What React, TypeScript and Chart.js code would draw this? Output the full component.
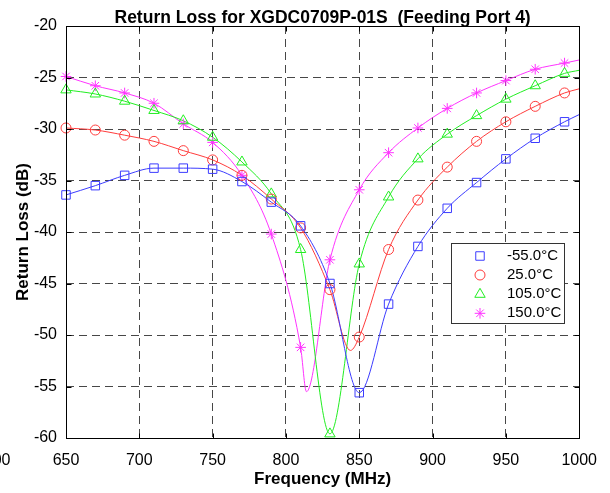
import React, { useEffect, useRef } from 'react';
import { Chart, registerables } from 'chart.js';
import { drawPoint } from 'chart.js/helpers';

Chart.register(...registerables);

const FONT = '"Liberation Sans", Arial, Helvetica, sans-serif';

const titleText = 'Return Loss for XGDC0709P-01S  (Feeding Port 4)';
const xTitle = 'Frequency (MHz)';
const yTitle = 'Return Loss (dB)';

const markerFreqs = [650, 670, 690, 710, 730, 750, 770, 790, 810, 830, 850, 870, 890, 910, 930, 950, 970, 990];
const seriesLabels = ['-55.0°C', '25.0°C', '105.0°C', '150.0°C'];
const seriesColors = ['#3c3cff', '#ff3c3c', '#22ee22', '#ff33ff'];
const seriesMarkers = ['rect', 'circle', 'triangle', 'star'];
const markerRadii = [6, 5, 6, 5.3];

const valsM55 = [-36.4, -35.5, -34.5, -33.8, -33.8, -33.9, -35.1, -37.1, -39.4, -45.0, -55.6, -47.0, -41.4, -37.7, -35.2, -32.9, -30.9, -29.3];
const vals25 = [-29.9, -30.1, -30.6, -31.2, -32.1, -33.0, -34.5, -36.8, -39.6, -45.6, -50.2, -41.7, -36.9, -33.7, -31.2, -29.3, -27.8, -26.5];
const vals105 = [-26.2, -26.6, -27.3, -28.2, -29.2, -30.8, -33.2, -36.3, -41.7, -59.6, -43.1, -36.6, -32.9, -30.5, -28.7, -27.1, -25.8, -24.6];
const vals150 = [-24.9, -25.8, -26.5, -27.5, -29.5, -31.3, -34.5, -40.2, -51.2, -42.7, -35.9, -32.3, -29.9, -28.0, -26.5, -25.3, -24.2, -23.6];
const seriesVals = [valsM55, vals25, vals105, vals150];

// extra vertices of the drawn curves (dips and right end)
const curveExtraFreqs = [[1000], [844, 1000], [1000], [814, 1000]];
const curveExtraVals = [[-28.6], [-51.5, -26.1], [-24.3], [-55.5, -23.3]];

const xTicks = [650, 700, 750, 800, 850, 900, 950, 1000];
const yTicks = [-60, -55, -50, -45, -40, -35, -30, -25, -20];
const clippedLeftLabel = '600';

function curveData(i: number) {
  const pts = markerFreqs.map((f, j) => ({ x: f, y: seriesVals[i][j] }));
  curveExtraFreqs[i].forEach((f, k) => pts.push({ x: f, y: curveExtraVals[i][k] }));
  pts.sort((a, b) => a.x - b.x);
  return pts;
}

const decorPlugin = {
  id: 'decor',
  afterDatasetsDraw(chart: any) {
    const { ctx, chartArea } = chart;
    const { left, right, top, bottom } = chartArea;
    const xs = chart.scales.x;
    const ys = chart.scales.y;
    ctx.save();
    ctx.strokeStyle = '#000';
    ctx.lineWidth = 1;
    ctx.setLineDash([]);
    const L = Math.round(left) + 0.5;
    const R = Math.round(right) + 0.5;
    const T = Math.round(top) + 0.5;
    const B = Math.round(bottom) + 0.5;
    ctx.strokeRect(L, T, R - L, B - T);
    ctx.beginPath();
    xTicks.forEach((v) => {
      const p = Math.round(xs.getPixelForValue(v)) + 0.5;
      ctx.moveTo(p, B);
      ctx.lineTo(p, B - 5);
      ctx.moveTo(p, T);
      ctx.lineTo(p, T + 5);
    });
    yTicks.forEach((v) => {
      const p = Math.round(ys.getPixelForValue(v)) + 0.5;
      ctx.moveTo(L, p);
      ctx.lineTo(L + 5, p);
      ctx.moveTo(R, p);
      ctx.lineTo(R - 5, p);
    });
    ctx.stroke();

    // legend box
    const bx = 451.5, by = 243.5, bw = 113, bh = 80;
    ctx.fillStyle = '#fff';
    ctx.fillRect(bx, by, bw, bh);
    ctx.strokeStyle = '#333';
    ctx.strokeRect(bx, by, bw, bh);
    const rowY = [256, 275, 294.3, 313.3];
    seriesLabels.forEach((lab, i) => {
      ctx.strokeStyle = seriesColors[i];
      ctx.fillStyle = 'rgba(0,0,0,0)';
      ctx.lineWidth = 1;
      drawPoint(ctx, { pointStyle: seriesMarkers[i], radius: markerRadii[i], rotation: 0, borderWidth: 1 } as any, 480, rowY[i]);
      ctx.fillStyle = '#000';
      ctx.font = `15px ${FONT}`;
      ctx.textAlign = 'left';
      ctx.textBaseline = 'middle';
      ctx.fillText(lab, 507, rowY[i]);
    });
    ctx.restore();
  },
  afterDraw(chart: any) {
    const { ctx, chartArea } = chart;
    ctx.save();
    ctx.fillStyle = '#000';
    ctx.font = `bold 17.5px ${FONT}`;
    ctx.textAlign = 'center';
    ctx.textBaseline = 'alphabetic';
    ctx.fillText(titleText, (chartArea.left + chartArea.right) / 2, 22.5);
    // partially visible tick label at the left edge of the cropped figure
    ctx.font = `16px ${FONT}`;
    ctx.textAlign = 'right';
    ctx.textBaseline = 'middle';
    ctx.fillText(clippedLeftLabel, 10.5, chartArea.bottom + 13 + 9.6);
    ctx.restore();
  },
};

export default function App() {
  const ref = useRef<HTMLCanvasElement | null>(null);
  useEffect(() => {
    document.body.style.margin = '0';
    const canvas = ref.current;
    if (!canvas) return;
    const curveSets = seriesLabels.map((lab, i) => ({
      label: lab + ' curve',
      data: curveData(i),
      borderColor: seriesColors[i],
      borderWidth: 1,
      pointRadius: 0,
      fill: false,
      cubicInterpolationMode: 'monotone' as const,
      showLine: true,
    }));
    const markerSets = seriesLabels.map((lab, i) => ({
      label: lab,
      data: markerFreqs.map((f, j) => ({ x: f, y: seriesVals[i][j] })),
      showLine: false,
      pointStyle: seriesMarkers[i],
      pointRadius: markerRadii[i],
      pointBorderColor: seriesColors[i],
      pointBackgroundColor: 'rgba(0,0,0,0)',
      pointBorderWidth: 1,
      borderColor: seriesColors[i],
      clip: false as any,
    }));
    const chart = new Chart(canvas, {
      type: 'line',
      data: { datasets: [...markerSets, ...curveSets] as any },
      options: {
        animation: false,
        responsive: false,
        maintainAspectRatio: false,
        layout: { padding: { top: 26, right: 23, left: 0, bottom: 0 } },
        plugins: {
          legend: { display: false },
          title: { display: false },
          tooltip: { enabled: false },
        },
        scales: {
          x: {
            type: 'linear',
            min: 650,
            max: 1000,
            afterFit: (s: any) => { s.height = 55; },
            afterBuildTicks: (s: any) => { s.ticks = xTicks.map((v) => ({ value: v })); },
            ticks: { color: '#000', font: { family: FONT, size: 16 }, padding: 13, maxRotation: 0, autoSkip: false, callback: (v: any) => String(v) },
            grid: { color: 'rgba(0,0,0,0.72)', lineWidth: 1, drawTicks: false },
            border: { display: false, dash: [8, 5] },
            title: { display: true, text: xTitle, color: '#000', font: { family: FONT, size: 17, weight: 'bold' }, padding: { top: 0, bottom: 3 } },
          },
          y: {
            type: 'linear',
            min: -60,
            max: -20,
            afterFit: (s: any) => { s.width = 66; },
            afterBuildTicks: (s: any) => { s.ticks = yTicks.map((v) => ({ value: v })); },
            ticks: { color: '#000', font: { family: FONT, size: 16 }, padding: 9, autoSkip: false, callback: (v: any) => String(v) },
            grid: { color: 'rgba(0,0,0,0.72)', lineWidth: 1, drawTicks: false },
            border: { display: false, dash: [8, 5] },
            title: { display: true, text: yTitle, color: '#000', font: { family: FONT, size: 17, weight: 'bold' }, padding: { top: 13, bottom: 0 } },
          },
        },
      } as any,
      plugins: [decorPlugin],
    });
    return () => chart.destroy();
  }, []);
  return (
    <div style={{ width: 610, height: 493, background: '#fff' }}>
      <canvas ref={ref} width={610} height={493} style={{ display: 'block' }} />
    </div>
  );
}
